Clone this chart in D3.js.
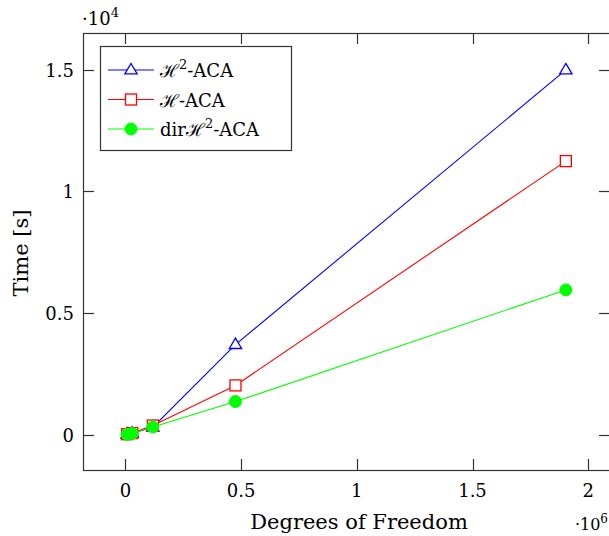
<html>
<head>
  <script src="https://d3js.org/d3.v7.min.js"></script>
  <meta charset="utf-8">
  <title>Time vs DOF</title>
<style>
body { margin: 0; background: #fff; }
svg { background: #fff; }
text { font-family: "DejaVu Serif", "Liberation Serif", serif; fill: #000; }
</style>
</head>
<body>
<script>
var width = 609,
    height = 536;

// data
var dofs = [7.4e3, 29.7e3, 118.9e3, 475.8e3, 1903.2e3];
var h2aca = [10, 50, 300, 3700, 15000];
var haca = [12, 60, 370, 2020, 11250];
var dirh2aca = [5, 40, 310, 1355, 5950];
var xTicks = [0, 0.5e6, 1e6, 1.5e6, 2e6];
var yTicks = [0, 0.5e4, 1e4, 1.5e4];

var series = [
  { name: 'H2', values: h2aca, color: '#0000ff', marker: 'triangle' },
  { name: 'H', values: haca, color: '#ff0000', marker: 'square' },
  { name: 'dirH2', values: dirh2aca, color: '#00ff00', marker: 'circle' }
];

var plotL = 83, plotR = 610, plotT = 33, plotB = 470;

var x = d3.scaleLinear().domain([-0.183e6, 2.094e6]).range([plotL, plotR]);
var y = d3.scaleLinear().domain([-0.146e4, 1.652e4]).range([plotB, plotT]);

var svg = d3.select('body').append('svg')
  .attr('width', width)
  .attr('height', height);

var tickLen = 11;
var axisColor = '#333';

// frame
svg.append('rect')
  .attr('x', plotL + 0.5).attr('y', plotT + 0.5)
  .attr('width', plotR - plotL).attr('height', plotB - plotT)
  .attr('fill', 'none').attr('stroke', axisColor).attr('stroke-width', 1.2);

// x ticks (bottom and top, inward)
xTicks.forEach(function (t) {
  var px = Math.round(x(t)) + 0.5;
  svg.append('line').attr('x1', px).attr('x2', px)
    .attr('y1', plotB).attr('y2', plotB - tickLen)
    .attr('stroke', axisColor).attr('stroke-width', 1.2);
  svg.append('line').attr('x1', px).attr('x2', px)
    .attr('y1', plotT).attr('y2', plotT + tickLen)
    .attr('stroke', axisColor).attr('stroke-width', 1.2);
  svg.append('text')
    .attr('x', x(t)).attr('y', 497)
    .attr('text-anchor', 'middle')
    .style('font-size', '18px')
    .text(d3.format('')(t / 1e6));
});

// y ticks (left and right, inward)
yTicks.forEach(function (t) {
  var py = Math.round(y(t)) + 0.5;
  svg.append('line').attr('x1', plotL).attr('x2', plotL + tickLen)
    .attr('y1', py).attr('y2', py)
    .attr('stroke', axisColor).attr('stroke-width', 1.2);
  svg.append('line').attr('x1', plotR).attr('x2', plotR - tickLen)
    .attr('y1', py).attr('y2', py)
    .attr('stroke', axisColor).attr('stroke-width', 1.2);
  svg.append('text')
    .attr('x', 74).attr('y', y(t) + 7)
    .attr('text-anchor', 'end')
    .style('font-size', '18px')
    .text(d3.format('')(t / 1e4));
});

// scale factors
var sx = svg.append('text').attr('x', 82).attr('y', 25).style('font-size', '18px');
sx.append('tspan').text('\u00b710');
sx.append('tspan').attr('dy', -8).style('font-size', '13px').text('4');

var sy = svg.append('text').attr('x', 608).attr('y', 530)
  .attr('text-anchor', 'end').style('font-size', '16px');
sy.append('tspan').text('\u00b710');
sy.append('tspan').attr('dy', -7).style('font-size', '12px').text('6');

// axis labels
svg.append('text')
  .attr('x', 359).attr('y', 529)
  .attr('text-anchor', 'middle')
  .style('font-size', '21px')
  .text('Degrees of Freedom');

svg.append('text')
  .attr('transform', 'translate(28,253) rotate(-90)')
  .attr('text-anchor', 'middle')
  .style('font-size', '21px')
  .text('Time [s]');

function drawMarker(g, kind, cx, cy, color) {
  if (kind === 'triangle') {
    var r = 6.5;
    g.append('path')
      .attr('d', 'M' + cx + ',' + (cy - r) + 'L' + (cx + r * 0.95) + ',' + (cy + r * 0.6) +
        'L' + (cx - r * 0.95) + ',' + (cy + r * 0.6) + 'Z')
      .attr('fill', '#fff').attr('stroke', color).attr('stroke-width', 1.3);
  } else if (kind === 'square') {
    g.append('rect')
      .attr('x', cx - 5.5).attr('y', cy - 5.5)
      .attr('width', 11).attr('height', 11)
      .attr('fill', '#fff').attr('stroke', color).attr('stroke-width', 1.3);
  } else {
    g.append('circle')
      .attr('cx', cx).attr('cy', cy).attr('r', 6)
      .attr('fill', color).attr('stroke', color);
  }
}

var line = d3.line()
  .x(function (d) { return x(d[0]); })
  .y(function (d) { return y(d[1]); });

series.forEach(function (s) {
  var pts = d3.zip(dofs, s.values);
  var g = svg.append('g');
  g.append('path')
    .attr('d', line(pts))
    .attr('fill', 'none')
    .attr('stroke', s.color)
    .attr('stroke-width', 1.1);
  pts.forEach(function (p) {
    drawMarker(g, s.marker, x(p[0]), y(p[1]), s.color);
  });
});

// legend
var lg = svg.append('g');
lg.append('rect')
  .attr('x', 100.5).attr('y', 46.5)
  .attr('width', 191).attr('height', 104)
  .attr('fill', '#fff').attr('stroke', axisColor).attr('stroke-width', 1.2);

var labels = [
  function (t) {
    t.append('tspan').text('\u210b');
    t.append('tspan').attr('dy', -8).style('font-size', '13px').text('2');
    t.append('tspan').attr('dy', 8).text('-ACA');
  },
  function (t) {
    t.append('tspan').text('\u210b-ACA');
  },
  function (t) {
    t.append('tspan').text('dir\u210b');
    t.append('tspan').attr('dy', -8).style('font-size', '13px').text('2');
    t.append('tspan').attr('dy', 8).text('-ACA');
  }
];

series.forEach(function (s, i) {
  var ly = 70 + i * 29.5;
  lg.append('line')
    .attr('x1', 108).attr('x2', 154)
    .attr('y1', ly).attr('y2', ly)
    .attr('stroke', s.color).attr('stroke-width', 1.1);
  drawMarker(lg, s.marker, 131, ly, s.color);
  var t = lg.append('text')
    .attr('x', 160).attr('y', ly + 7)
    .style('font-size', '18px');
  labels[i](t);
});
</script>
</body>
</html>
